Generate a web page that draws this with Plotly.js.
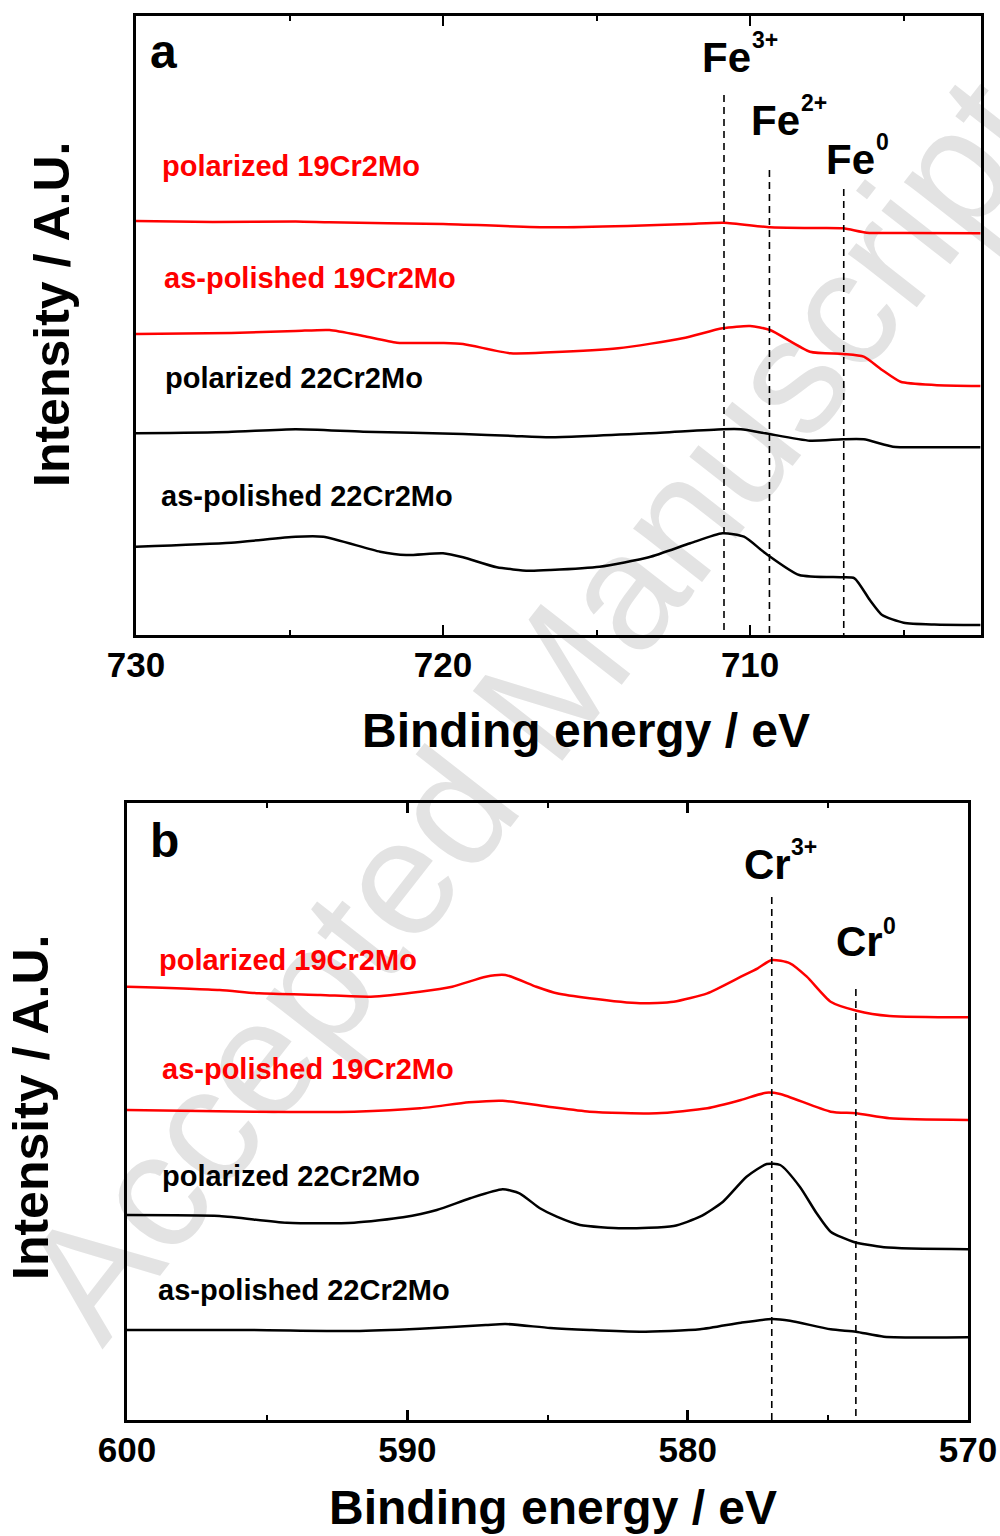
<!DOCTYPE html>
<html>
<head>
<meta charset="utf-8">
<script src="https://cdn.plot.ly/plotly-3.0.1.min.js"></script>
<style>
  html, body { margin: 0; padding: 0; background: #ffffff; }
  #wrap { position: relative; width: 1000px; height: 1536px; overflow: hidden; background: #ffffff; }
  #wm { position: absolute; left: 532px; top: 708px; transform: translate(-50%, -50%) rotate(-52deg);
        font-family: Arial, "Liberation Sans", sans-serif; font-size: 165px; color: #e3e3e3;
        white-space: nowrap; line-height: 1; z-index: 0; }
  #chart { position: absolute; left: 0; top: 0; width: 1000px; height: 1536px; z-index: 1; }
</style>
</head>
<body>
<div id="wrap">
  <div id="wm">Accepted Manuscript</div>
  <div id="chart"></div>
</div>
<script>
// ---------- Panel a: Fe 2p (binding energy in eV, intensity in arbitrary units) ----------
const feEnergyPol19 = [730.0, 727.5, 724.8, 723.7, 720.0, 716.5, 714.0, 712.0, 710.85, 709.35, 708.0, 706.97, 706.2, 705.0, 702.5];
const feIntPol19    = [419, 418, 418.5, 417.7, 416, 412.7, 414, 416, 417.3, 412.7, 412, 411.7, 407.3, 407, 406.7];

const feEnergyAsp19 = [730.0, 726.9, 724.8, 723.7, 722.6, 721.5, 720.0, 719.35, 717.8, 716.5, 714.3, 712.2, 710.9, 710.0, 709.35, 708.05, 706.97, 706.3, 705.7, 705.1, 704.0, 702.5];
const feIntAsp19    = [306, 307, 309, 310, 304, 297.3, 297, 296, 286.7, 287.7, 291.7, 301.7, 311.7, 314, 310, 288.3, 286, 283.3, 270, 258.3, 255, 254];

const feEnergyPol22 = [730.0, 727.0, 724.8, 722.6, 719.35, 717.7, 716.5, 713.3, 710.9, 710.3, 709.5, 708.05, 707.0, 706.3, 705.35, 704.5, 702.5];
const feIntPol22    = [206.7, 208, 210.7, 208.3, 206, 204, 202.7, 206.7, 210.7, 210.7, 206.7, 199.3, 200.7, 200.7, 193.3, 192.7, 192.7];

const feEnergyAsp22 = [730.0, 726.9, 724.8, 723.9, 722.05, 721.2, 720.0, 719.35, 718.25, 717.2, 716.5, 714.9, 713.3, 711.95, 710.9, 710.2, 709.5, 708.4, 707.0, 706.6, 706.1, 705.7, 705.0, 704.0, 702.5];
const feIntAsp22    = [93.3, 97.3, 103.3, 103.3, 88.3, 85, 86.7, 82.7, 72.7, 69.3, 70, 73.3, 82.7, 96.7, 106.7, 103.3, 86.7, 65, 62.7, 61.7, 40, 25, 17.3, 15.5, 15];

const fePeakEnergies = [710.85, 709.37, 706.95];   // Fe3+, Fe2+, Fe0
const fePeakLineTops = [545, 470, 451];
const fePeakNames    = ["Fe", "Fe", "Fe"];
const fePeakCharges  = ["3+", "2+", "0"];

// ---------- Panel b: Cr 2p ----------
const crEnergyPol19 = [600.0, 596.7, 595.3, 593.1, 591.3, 589.55, 588.4, 587.2, 586.5, 585.4, 584.67, 583.5, 581.7, 580.5, 579.3, 578.1, 577.5, 577.0, 576.35, 575.75, 574.9, 573.97, 572.8, 570.0];
const crIntPol19    = [438.3, 435, 431.7, 430, 428.3, 433.3, 438.3, 448.3, 450, 438.3, 431.7, 426.7, 421.7, 423.3, 431.7, 448.3, 456.7, 465, 461.7, 448.3, 423.3, 414.3, 409, 407.7];

const crEnergyAsp19 = [600.0, 595.5, 591.9, 589.55, 587.8, 586.6, 584.9, 583.5, 581.1, 579.3, 578.1, 577.2, 576.7, 574.9, 574.0, 572.8, 570.0];
const crIntAsp19    = [315, 313.3, 313.3, 316.7, 322.7, 324.3, 318, 313.3, 311.7, 316.7, 325, 332.3, 331, 313.3, 311.7, 306.7, 305];

const crEnergyPol22 = [600.0, 596.7, 594.3, 591.9, 590.15, 588.95, 587.76, 586.6, 586.0, 585.27, 584.67, 583.84, 582.3, 580.5, 579.56, 578.74, 577.9, 577.18, 576.7, 576.0, 575.4, 574.9, 574.1, 573.0, 570.0];
const crIntPol22    = [210, 209, 202.3, 202.3, 207.7, 215, 226.7, 235.7, 231.7, 216.7, 208.3, 200, 196.7, 199, 208.3, 223.3, 248.3, 261, 260, 238.3, 211.7, 193.3, 183.3, 177.7, 175.7];

const crEnergyAsp22 = [600.0, 595.5, 591.9, 589.55, 587.2, 586.5, 584.9, 583.5, 581.7, 579.56, 578.1, 577.0, 576.35, 574.9, 574.0, 573.0, 570.0];
const crIntAsp22    = [95, 95, 94, 96.3, 100, 101, 97, 95, 93.3, 95.7, 102.3, 106, 104.3, 95.7, 93.3, 88.3, 87.7];

const crPeakEnergies = [577.0, 574.0];   // Cr3+, Cr0
const crPeakLineTops = [528, 436];
const crPeakNames    = ["Cr", "Cr"];
const crPeakCharges  = ["3+", "0"];

// ---------- labels ----------
const seriesLabels = ["polarized 19Cr2Mo", "as-polished 19Cr2Mo", "polarized 22Cr2Mo", "as-polished 22Cr2Mo"];
const seriesColors = ["#ff0000", "#ff0000", "#000000", "#000000"];
const xTickValsA = [730, 720, 710];
const xTickValsB = [600, 590, 580, 570];
const xTitle = "Binding energy / eV";
const yTitle = "Intensity / A.U.";
const panelLetters = ["a", "b"];

const yRangeA = [5, 624];
const yRangeB = [5, 622];

const FONT = "Arial, 'Liberation Sans', Helvetica, sans-serif";

function curve(x, y, color, xa, ya) {
  return { x: x, y: y, type: "scatter", mode: "lines", xaxis: xa, yaxis: ya,
           line: { color: color, width: 2.5, shape: "spline", smoothing: 0.6 }, hoverinfo: "skip" };
}
function peakLines(energies, tops, bottom, xa, ya) {
  const xs = [], ys = [];
  energies.forEach((e, i) => { xs.push(e, e, null); ys.push(tops[i], bottom, null); });
  return { x: xs, y: ys, type: "scatter", mode: "lines", xaxis: xa, yaxis: ya,
           line: { color: "#000", width: 1.6, dash: "7px,5px" }, hoverinfo: "skip" };
}

const traces = [
  curve(feEnergyPol19, feIntPol19, seriesColors[0], "x", "y"),
  curve(feEnergyAsp19, feIntAsp19, seriesColors[1], "x", "y"),
  curve(feEnergyPol22, feIntPol22, seriesColors[2], "x", "y"),
  curve(feEnergyAsp22, feIntAsp22, seriesColors[3], "x", "y"),
  peakLines(fePeakEnergies, fePeakLineTops, yRangeA[0], "x", "y"),
  curve(crEnergyPol19, crIntPol19, seriesColors[0], "x2", "y2"),
  curve(crEnergyAsp19, crIntAsp19, seriesColors[1], "x2", "y2"),
  curve(crEnergyPol22, crIntPol22, seriesColors[2], "x2", "y2"),
  curve(crEnergyAsp22, crIntAsp22, seriesColors[3], "x2", "y2"),
  peakLines(crPeakEnergies, crPeakLineTops, yRangeB[0], "x2", "y2")
];

// pixel -> paper helpers (for text placement only)
const W = 1000, H = 1536;
const px = v => v / W;
const py = v => 1 - v / H;

function xAxis(domain, range, tickvals, anchor) {
  return {
    domain: domain, range: range, anchor: anchor,
    tickmode: "array", tickvals: tickvals,
    ticks: "inside", ticklen: 10, tickwidth: 2.5, tickcolor: "#000",
    minor: { dtick: 5, tick0: 0, ticks: "inside", ticklen: 5, tickwidth: 2, tickcolor: "#000" },
    mirror: "allticks", showline: true, linewidth: 3, linecolor: "#000",
    showgrid: false, zeroline: false,
    tickfont: { family: FONT, size: 35, color: "#000", weight: "bold" },
    ticklabelstandoff: -3
  };
}
function yAxis(domain, range, anchor) {
  return {
    domain: domain, range: range, anchor: anchor,
    showticklabels: false, ticks: "", showline: true, mirror: true,
    linewidth: 3, linecolor: "#000", showgrid: false, zeroline: false
  };
}

function txt(text, x, y, size, color, xanchor, extra) {
  return Object.assign({ text: text, x: x, y: y, xref: "paper", yref: "paper",
    xanchor: xanchor || "left", yanchor: "middle", showarrow: false,
    font: { family: FONT, size: size, color: color || "#000", weight: "bold" } }, extra || {});
}

const annotations = [
  // panel letters
  txt(panelLetters[0], px(148), py(52), 48),
  txt(panelLetters[1], px(148), py(840), 48),
  // axis titles
  txt(xTitle, px(586), py(730), 48, "#000", "center"),
  txt(xTitle, px(553), py(1507), 48, "#000", "center"),
  txt(yTitle, px(52), py(315), 50, "#000", "center", { textangle: -90 }),
  txt(yTitle, px(31), py(1108), 50, "#000", "center", { textangle: -90 }),
  // series labels panel a
  txt(seriesLabels[0], px(160), py(166), 29, seriesColors[0]),
  txt(seriesLabels[1], px(162), py(278), 29, seriesColors[1]),
  txt(seriesLabels[2], px(163), py(378), 29, seriesColors[2]),
  txt(seriesLabels[3], px(159), py(496), 29, seriesColors[3]),
  // series labels panel b
  txt(seriesLabels[0], px(157), py(960), 29, seriesColors[0]),
  txt(seriesLabels[1], px(160), py(1069), 29, seriesColors[1]),
  txt(seriesLabels[2], px(160), py(1176), 29, seriesColors[2]),
  txt(seriesLabels[3], px(156), py(1290), 29, seriesColors[3]),
  // peak names panel a
  txt(fePeakNames[0], px(700), py(58), 42),
  txt(fePeakCharges[0], px(750), py(40), 23),
  txt(fePeakNames[1], px(749), py(121), 42),
  txt(fePeakCharges[1], px(799), py(103), 23),
  txt(fePeakNames[2], px(824), py(160), 42),
  txt(fePeakCharges[2], px(874), py(142), 23),
  // peak names panel b
  txt(crPeakNames[0], px(742), py(864), 42),
  txt(crPeakCharges[0], px(789), py(847), 23),
  txt(crPeakNames[1], px(834), py(941), 42),
  txt(crPeakCharges[1], px(881), py(926), 23)
];

const layout = {
  width: W, height: H,
  margin: { l: 0, r: 0, t: 0, b: 0, pad: 0 },
  paper_bgcolor: "rgba(0,0,0,0)", plot_bgcolor: "rgba(0,0,0,0)",
  showlegend: false,
  xaxis: xAxis([0.136, 0.981], [730, 702.48], xTickValsA, "y"),
  yaxis: yAxis([1 - 635 / H, 1 - 16 / H], yRangeA, "x"),
  xaxis2: xAxis([0.127, 0.968], [600, 570], xTickValsB, "y2"),
  yaxis2: yAxis([1 - 1420 / H, 1 - 803 / H], yRangeB, "x2"),
  annotations: annotations
};

Plotly.newPlot("chart", traces, layout, { staticPlot: true, displayModeBar: false });
</script>
</body>
</html>
